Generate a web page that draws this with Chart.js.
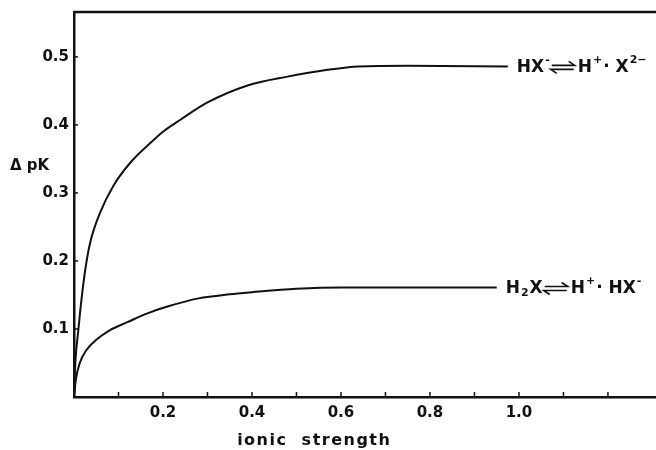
<!DOCTYPE html>
<html>
<head>
<meta charset="utf-8">
<script src="https://cdn.jsdelivr.net/npm/chart.js@4"></script>
<style>
  html, body { margin: 0; padding: 0; background: #fff; }
  #wrap { width: 656px; height: 450px; }
</style>
</head>
<body>
<div id="wrap"><canvas id="pkChart"></canvas></div>
<script>
// ionic strength vs delta pK
let upperX = [0, 0.003, 0.01, 0.018, 0.026, 0.036, 0.058, 0.088, 0.126, 0.171, 0.2, 0.24, 0.3, 0.39, 0.48, 0.57, 0.64, 0.75, 0.975];
let upperY = [0, 0.05, 0.1, 0.15, 0.19, 0.226, 0.27, 0.31, 0.344, 0.373, 0.39, 0.408, 0.433, 0.458, 0.471, 0.481, 0.486, 0.487, 0.486];
let lowerX = [0, 0.004, 0.013, 0.028, 0.05, 0.08, 0.12, 0.165, 0.21, 0.28, 0.35, 0.4, 0.5, 0.6, 0.75, 0.95];
let lowerY = [0, 0.025, 0.05, 0.069, 0.084, 0.098, 0.11, 0.123, 0.133, 0.145, 0.151, 0.154, 0.159, 0.161, 0.161, 0.161];
// label pieces: [text, "n" normal | "sup" | "sub" | "eq" equilibrium arrow]
let upperLabel = [["HX", "n"], ["-", "sup"], ["⇌", "eq"], ["H", "n"], ["+", "sup"], ["· X", "n"], ["2−", "sup"]];
let lowerLabel = [["H", "n"], ["2", "sub"], ["X", "n"], ["⇌", "eq"], ["H", "n"], ["+", "sup"], ["· HX", "n"], ["-", "sup"]];
let xTickLabels = ["0.2", "0.4", "0.6", "0.8", "1.0"];
let yTickLabels = ["0.1", "0.2", "0.3", "0.4", "0.5"];
let xTitle = "ionic  strength";
let yTitle = "Δ pK";

const INK = "#111";
const FONT = "DejaVu Sans";

function toPoints(xs, ys) {
    return xs.map((x, i) => ({ x: x, y: ys[i] }));
}

function drawRich(ctx, parts, x, y) {
    parts.forEach(p => {
        if (p[1] === "eq") {
            // hand drawn equilibrium harpoons, wider than the glyph
            let w = 24;
            ctx.lineWidth = 1.6;
            ctx.beginPath();
            ctx.moveTo(x + 1, y - 2);
            ctx.lineTo(x + w, y - 2);
            ctx.lineTo(x + w - 6, y - 6);
            ctx.moveTo(x + w - 1, y + 2);
            ctx.lineTo(x, y + 2);
            ctx.lineTo(x + 6, y + 6);
            ctx.stroke();
            x += w + 3;
            return;
        }
        let dy = 0;
        if (p[1] === "n") {
            ctx.font = "bold 17px '" + FONT + "'";
        } else {
            ctx.font = "bold 11px '" + FONT + "'";
            dy = p[1] === "sup" ? -7 : 5;
        }
        ctx.fillText(p[0], x, y + dy);
        x += ctx.measureText(p[0]).width + 1;
    });
}

const decorations = {
    id: "decorations",
    afterDraw(chart) {
        let ctx = chart.ctx;
        let area = chart.chartArea;
        let xs = chart.scales.x;
        let ys = chart.scales.y;
        ctx.save();
        ctx.strokeStyle = INK;
        ctx.fillStyle = INK;

        // top frame line
        ctx.lineWidth = 2.5;
        ctx.beginPath();
        ctx.moveTo(area.left, area.top);
        ctx.lineTo(area.right, area.top);
        ctx.stroke();

        // inward ticks
        ctx.lineWidth = 1.5;
        for (let v = 1; v <= 12; v++) {
            let px = xs.getPixelForValue(v / 10);
            ctx.beginPath();
            ctx.moveTo(px, area.bottom);
            ctx.lineTo(px, area.bottom - 5);
            ctx.stroke();
        }
        for (let v = 1; v <= 5; v++) {
            let py = ys.getPixelForValue(v / 10);
            ctx.beginPath();
            ctx.moveTo(area.left, py);
            ctx.lineTo(area.left + 4, py);
            ctx.stroke();
        }

        // curve labels at the end of each line
        ctx.textBaseline = "middle";
        ctx.textAlign = "left";
        [upperLabel, lowerLabel].forEach((parts, i) => {
            let data = chart.data.datasets[i].data;
            let last = data[data.length - 1];
            drawRich(ctx, parts, xs.getPixelForValue(last.x) + 9, ys.getPixelForValue(last.y) + 1);
        });

        // axis titles
        ctx.font = "bold 16px '" + FONT + "'";
        ctx.textAlign = "center";
        ctx.letterSpacing = "1.5px";
        ctx.fillText(xTitle, xs.getPixelForValue(0.54), area.bottom + 44);
        ctx.letterSpacing = "0px";
        ctx.font = "bold 15px '" + FONT + "'";
        ctx.textAlign = "left";
        ctx.fillText(yTitle, 10, ys.getPixelForValue(0.34));
        ctx.restore();
    }
};

new Chart(document.getElementById("pkChart"), {
    type: "line",
    data: {
        datasets: [
            { data: toPoints(upperX, upperY), borderColor: INK, borderWidth: 2, pointRadius: 0, fill: false, cubicInterpolationMode: "monotone" },
            { data: toPoints(lowerX, lowerY), borderColor: INK, borderWidth: 2, pointRadius: 0, fill: false, cubicInterpolationMode: "monotone" }
        ]
    },
    options: {
        responsive: true,
        maintainAspectRatio: false,
        animation: false,
        layout: { padding: { top: 12, right: 0, left: 0, bottom: 0 } },
        plugins: { legend: { display: false }, tooltip: { enabled: false } },
        scales: {
            x: {
                type: "linear",
                min: 0,
                max: 1.308,
                afterFit: s => { s.height = 53; s.paddingLeft = 0; s.paddingRight = 0; },
                grid: { display: false, drawTicks: false },
                border: { display: true, color: INK, width: 2.5 },
                ticks: {
                    stepSize: 0.1,
                    autoSkip: false,
                    maxRotation: 0,
                    padding: 7,
                    color: INK,
                    font: { family: FONT, weight: "bold", size: 15 },
                    callback: function(value) {
                        let label = value.toFixed(1);
                        return xTickLabels.includes(label) && Math.abs(value - parseFloat(label)) < 0.001 ? label : "";
                    }
                }
            },
            y: {
                min: 0,
                max: 0.566,
                afterFit: s => { s.width = 74; s.paddingTop = 0; s.paddingBottom = 0; },
                grid: { display: false, drawTicks: false },
                border: { display: true, color: INK, width: 2.5 },
                ticks: {
                    stepSize: 0.1,
                    autoSkip: false,
                    padding: 5,
                    color: INK,
                    font: { family: FONT, weight: "bold", size: 15 },
                    callback: function(value) {
                        let label = value.toFixed(1);
                        return yTickLabels.includes(label) && Math.abs(value - parseFloat(label)) < 0.001 ? label : "";
                    }
                }
            }
        }
    },
    plugins: [decorations]
});
</script>
</body>
</html>
